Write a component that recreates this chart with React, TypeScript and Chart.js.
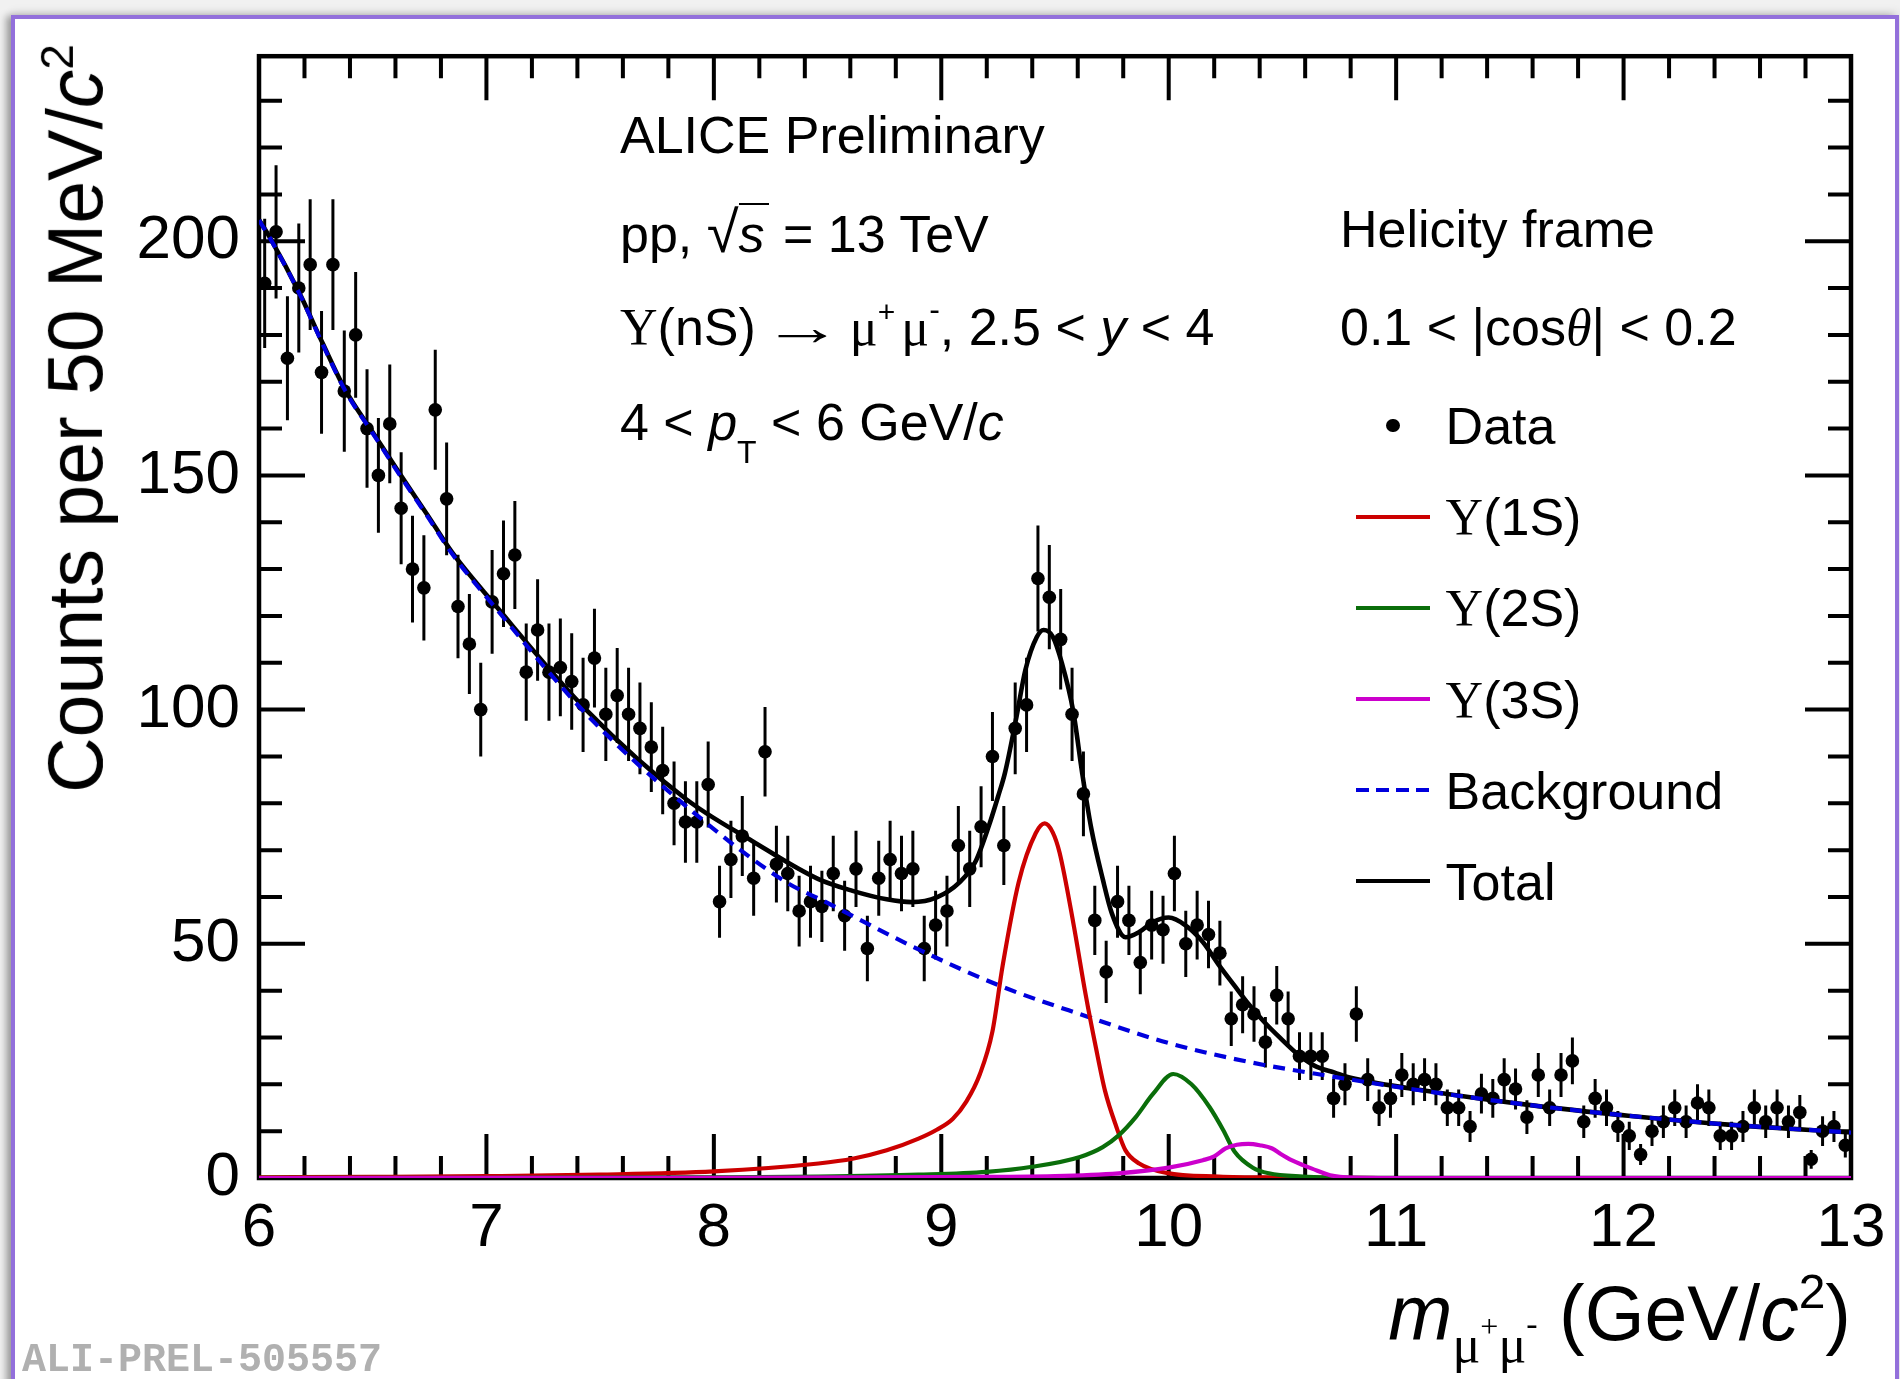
import React, { useEffect, useRef } from "react";
import { Chart, registerables } from "chart.js";

Chart.register(...registerables);

const SANS = "'Liberation Sans', Arial, Helvetica, sans-serif";
const SERIF = "'Liberation Serif', 'Times New Roman', serif";
const MONO = "'Liberation Mono', 'Courier New', monospace";

// ---- histogram: bin centres (GeV/c^2) and counts per 50 MeV/c^2 ----
const BIN_CENTERS = [
  6.025, 6.075, 6.125, 6.175, 6.225, 6.275, 6.325, 6.375, 6.425, 6.475,
  6.525, 6.575, 6.625, 6.675, 6.725, 6.775, 6.825, 6.875, 6.925, 6.975,
  7.025, 7.075, 7.125, 7.175, 7.225, 7.275, 7.325, 7.375, 7.425, 7.475,
  7.525, 7.575, 7.625, 7.675, 7.725, 7.775, 7.825, 7.875, 7.925, 7.975,
  8.025, 8.075, 8.125, 8.175, 8.225, 8.275, 8.325, 8.375, 8.425, 8.475,
  8.525, 8.575, 8.625, 8.675, 8.725, 8.775, 8.825, 8.875, 8.925, 8.975,
  9.025, 9.075, 9.125, 9.175, 9.225, 9.275, 9.325, 9.375, 9.425, 9.475,
  9.525, 9.575, 9.625, 9.675, 9.725, 9.775, 9.825, 9.875, 9.925, 9.975,
  10.025, 10.075, 10.125, 10.175, 10.225, 10.275, 10.325, 10.375, 10.425, 10.475,
  10.525, 10.575, 10.625, 10.675, 10.725, 10.775, 10.825, 10.875, 10.925, 10.975,
  11.025, 11.075, 11.125, 11.175, 11.225, 11.275, 11.325, 11.375, 11.425, 11.475,
  11.525, 11.575, 11.625, 11.675, 11.725, 11.775, 11.825, 11.875, 11.925, 11.975,
  12.025, 12.075, 12.125, 12.175, 12.225, 12.275, 12.325, 12.375, 12.425, 12.475,
  12.525, 12.575, 12.625, 12.675, 12.725, 12.775, 12.825, 12.875, 12.925, 12.975,
];
const COUNTS = [
  191, 202, 175, 190, 195, 172, 195, 168, 180, 160,
  150, 161, 143, 130, 126, 164, 145, 122, 114, 100,
  123, 129, 133, 108, 117, 108, 109, 106, 101, 111,
  99, 103, 99, 96, 92, 87, 80, 76, 76, 84,
  59, 68, 73, 64, 91, 67, 65, 57, 59, 58,
  65, 56, 66, 49, 64, 68, 65, 66, 49, 54,
  57, 71, 66, 75, 90, 71, 96, 101, 128, 124,
  115, 99, 82, 55, 44, 59, 55, 46, 54, 53,
  65, 50, 54, 52, 48, 34, 37, 35, 29, 39,
  34, 26, 26, 26, 17, 20, 35, 21, 15, 17,
  22, 20, 21, 20, 15, 15, 11, 18, 17, 21,
  19, 13, 22, 15, 22, 25, 12, 17, 15, 11,
  9, 5, 10, 12, 15, 12, 16, 15, 9, 9,
  11, 15, 12, 15, 12, 14, 4, 10, 11, 7,
];

// ---- fit curves ----
const TOTAL_X = [6.0, 6.05, 6.18, 6.28, 6.38, 6.5, 6.62, 6.74, 6.85, 7.03, 7.44, 7.88, 8.17, 8.46, 8.61, 8.76, 8.87, 8.98, 9.08, 9.15, 9.21, 9.25, 9.28, 9.33, 9.37, 9.42, 9.45, 9.49, 9.53, 9.58, 9.62, 9.66, 9.71, 9.75, 9.81, 9.87, 9.93, 10.0, 10.075, 10.15, 10.22, 10.29, 10.35, 10.42, 10.49, 10.57, 10.64, 10.73, 10.8, 11.08, 11.6, 12.02, 12.46, 13.0];
const TOTAL_Y = [204.6, 200.6, 188.7, 178.2, 168.2, 159.2, 150.3, 141.6, 133.5, 122.8, 99.9, 80.8, 71.9, 63.8, 61.3, 59.5, 58.9, 59.9, 63.1, 67.5, 75.3, 81.5, 86.5, 98.3, 108.5, 115.5, 117.0, 115.6, 110.0, 99.7, 86.3, 74.5, 63.8, 56.5, 51.4, 52.5, 54.6, 55.6, 53.9, 50.4, 45.5, 41.0, 37.2, 33.3, 29.9, 26.3, 24.0, 22.5, 21.4, 19.0, 15.5, 13.3, 11.4, 9.7];

const BKG_X = [6.0, 6.05, 6.18, 6.28, 6.38, 6.5, 6.62, 6.74, 6.85, 7.03, 7.44, 7.88, 8.32, 8.48, 8.9, 9.27, 9.64, 10.0, 10.37, 10.64, 11.08, 11.6, 12.02, 12.46, 13.0];
const BKG_Y = [204.5, 200.5, 188.6, 178.0, 168.0, 159.0, 150.0, 141.3, 133.2, 122.3, 99.0, 79.3, 63.1, 59.2, 48.8, 40.8, 34.5, 28.8, 24.6, 22.3, 18.9, 15.5, 13.3, 11.4, 9.7];

const Y1S_X = [6.0, 6.5, 7.0, 7.5, 8.0, 8.46, 8.61, 8.76, 8.9, 8.98, 9.05, 9.11, 9.17, 9.225, 9.27, 9.34, 9.415, 9.455, 9.49, 9.52, 9.58, 9.635, 9.68, 9.72, 9.77, 9.81, 9.87, 9.99, 10.22, 10.5, 11.0, 13.0];
const Y1S_Y = [0.15, 0.25, 0.4, 0.7, 1.4, 3.1, 4.1, 5.9, 8.4, 10.3, 12.6, 16.3, 22.2, 31.3, 45.4, 63.1, 73.6, 75.7, 73.8, 69.5, 54.6, 39.1, 27.8, 18.6, 10.9, 5.9, 3.1, 1.1, 0.3, 0.1, 0.0, 0.0];

const Y2S_X = [6.0, 7.0, 8.0, 8.46, 8.9, 9.2, 9.4, 9.61, 9.71, 9.78, 9.855, 9.93, 10.02, 10.1, 10.18, 10.24, 10.29, 10.37, 10.44, 10.59, 10.73, 11.0, 13.0];
const Y2S_Y = [0.02, 0.05, 0.15, 0.3, 0.7, 1.3, 2.4, 4.5, 6.6, 9.1, 13.0, 17.9, 22.2, 20.0, 15.1, 10.2, 5.6, 2.2, 1.0, 0.3, 0.1, 0.0, 0.0];

const Y3S_X = [6.0, 8.0, 9.0, 9.5, 9.78, 10.0, 10.15, 10.2, 10.25, 10.3, 10.35, 10.4, 10.455, 10.49, 10.54, 10.59, 10.63, 10.71, 10.81, 11.0, 13.0];
const Y3S_Y = [0.0, 0.05, 0.2, 0.4, 1.0, 2.2, 3.8, 4.6, 6.3, 7.1, 7.3, 7.0, 6.3, 5.2, 3.8, 2.75, 2.0, 0.6, 0.1, 0.0, 0.0];

// ---- axes ----
const X_TICKS = [6, 7, 8, 9, 10, 11, 12, 13];
const Y_TICKS = [0, 50, 100, 150, 200];
const X_MIN = 6;
const X_MAX = 13;
const Y_MIN = 0;
const Y_MAX = 239.5;

const COL_1S = "#cc0000";
const COL_2S = "#0a6e0a";
const COL_3S = "#cc00cc";
const COL_BKG = "#0000dd";
const COL_TOT = "#000000";

const toXY = (xs: number[], ys: number[]) => xs.map((x, i) => ({ x, y: ys[i] }));

const rootFramePlugin = {
  id: "rootFrame",
  beforeDatasetsDraw(chart: any) {
    const { ctx, chartArea: a, scales } = chart;
    const xs = scales.x;
    const ys = scales.y;
    ctx.save();
    ctx.strokeStyle = "#000";
    ctx.lineCap = "butt";
    ctx.lineWidth = 4.5;
    ctx.strokeRect(a.left, a.top, a.right - a.left, a.bottom - a.top);
    ctx.lineWidth = 4;
    ctx.beginPath();
    for (let k = 0; k <= 35; k++) {
      const v = X_MIN + k * 0.2;
      const len = k % 5 === 0 ? 44 : 22;
      const px = xs.getPixelForValue(v);
      ctx.moveTo(px, a.bottom);
      ctx.lineTo(px, a.bottom - len);
      ctx.moveTo(px, a.top);
      ctx.lineTo(px, a.top + len);
    }
    for (let k = 0; k <= 23; k++) {
      const v = k * 10;
      const len = k % 5 === 0 ? 46 : 23;
      const py = ys.getPixelForValue(v);
      ctx.moveTo(a.left, py);
      ctx.lineTo(a.left + len, py);
      ctx.moveTo(a.right, py);
      ctx.lineTo(a.right - len, py);
    }
    ctx.stroke();
    ctx.restore();
  },
};

const errorBarPlugin = {
  id: "errorBars",
  beforeDatasetDraw(chart: any, args: any) {
    if (args.index !== 0) return;
    const { ctx, chartArea: a, scales } = chart;
    ctx.save();
    ctx.beginPath();
    ctx.rect(a.left, a.top, a.right - a.left, a.bottom - a.top);
    ctx.clip();
    ctx.strokeStyle = "#000";
    ctx.lineWidth = 3;
    ctx.beginPath();
    COUNTS.forEach((c, i) => {
      const e = Math.sqrt(c);
      const px = scales.x.getPixelForValue(BIN_CENTERS[i]);
      ctx.moveTo(px, scales.y.getPixelForValue(c - e));
      ctx.lineTo(px, scales.y.getPixelForValue(c + e));
    });
    ctx.stroke();
    ctx.restore();
  },
};

function curve(label: string, xs: number[], ys: number[], color: string, width: number, order: number, dash?: number[]) {
  return {
    label,
    data: toXY(xs, ys),
    showLine: true,
    borderColor: color,
    backgroundColor: color,
    borderWidth: width,
    borderDash: dash || [],
    pointRadius: 0,
    pointHoverRadius: 0,
    cubicInterpolationMode: "monotone" as const,
    fill: false,
    order,
  };
}

const TICK_FONT = { family: SANS, size: 62 };

function TextAt(props: { left?: number; right?: number; baseline: number; size: number; children: any; style?: any }) {
  const { left, right, baseline, size, children, style } = props;
  return (
    <div
      style={{
        position: "absolute",
        left,
        right,
        top: baseline - 0.8465 * size,
        fontSize: size,
        lineHeight: 1,
        fontFamily: SANS,
        whiteSpace: "nowrap",
        color: "#000",
        ...(style || {}),
      }}
    >
      {children}
    </div>
  );
}

function Shift(props: { size: number; dy: number; serif?: boolean; italic?: boolean; children: any; ml?: number }) {
  return (
    <span
      style={{
        fontSize: props.size,
        position: "relative",
        top: props.dy,
        fontFamily: props.serif ? SERIF : undefined,
        fontStyle: props.italic ? "italic" : "normal",
        marginLeft: props.ml,
      }}
    >
      {props.children}
    </span>
  );
}

const Ups = () => <span style={{ fontFamily: SERIF }}>Υ</span>;

function LegendLine(props: { y: number; color?: string; dashed?: boolean }) {
  return (
    <div
      style={{
        position: "absolute",
        left: 1356,
        top: props.y - 2,
        width: 74,
        height: 4,
        background: props.dashed
          ? `repeating-linear-gradient(90deg, ${COL_BKG} 0px, ${COL_BKG} 13px, transparent 13px, transparent 20px)`
          : props.color,
      }}
    />
  );
}

export default function App() {
  const canvasRef = useRef<HTMLCanvasElement>(null);

  useEffect(() => {
    const canvas = canvasRef.current;
    if (!canvas) return;
    const chart = new Chart(canvas, {
      type: "scatter",
      data: {
        datasets: [
          {
            label: "Data",
            data: toXY(BIN_CENTERS, COUNTS),
            showLine: false,
            pointRadius: 6.8,
            pointHoverRadius: 6.8,
            pointBackgroundColor: "#000",
            pointBorderWidth: 0,
            borderColor: "#000",
            order: 10,
          } as any,
          curve("Total", TOTAL_X, TOTAL_Y, COL_TOT, 4.6, 5),
          curve("Background", BKG_X, BKG_Y, COL_BKG, 4.2, 4, [12, 8]),
          curve("Υ(1S)", Y1S_X, Y1S_Y, COL_1S, 4.2, 3),
          curve("Υ(2S)", Y2S_X, Y2S_Y, COL_2S, 4.2, 2),
          curve("Υ(3S)", Y3S_X, Y3S_Y, COL_3S, 4.2, 1),
        ],
      },
      options: {
        responsive: false,
        maintainAspectRatio: false,
        animation: false,
        events: [],
        layout: { padding: { left: 0, top: 46, right: 49, bottom: 0 } },
        plugins: {
          legend: { display: false },
          tooltip: { enabled: false },
          title: { display: false },
        },
        scales: {
          x: {
            type: "linear",
            min: X_MIN,
            max: X_MAX,
            afterFit: (s: any) => {
              s.height = 201;
            },
            afterBuildTicks: (s: any) => {
              s.ticks = X_TICKS.map((v) => ({ value: v }));
            },
            grid: { display: false, drawTicks: false },
            border: { display: false },
            ticks: {
              padding: 14,
              font: TICK_FONT,
              color: "#000",
              autoSkip: false,
              maxRotation: 0,
              minRotation: 0,
              callback: (v: any) => String(v),
            },
          },
          y: {
            type: "linear",
            min: Y_MIN,
            max: Y_MAX,
            afterFit: (s: any) => {
              s.width = 259;
            },
            afterBuildTicks: (s: any) => {
              s.ticks = Y_TICKS.map((v) => ({ value: v }));
            },
            grid: { display: false, drawTicks: false },
            border: { display: false },
            ticks: {
              padding: 19,
              font: TICK_FONT,
              color: "#000",
              autoSkip: false,
              includeBounds: false,
              callback: (v: any) => String(v),
            },
          },
        },
      } as any,
      plugins: [rootFramePlugin, errorBarPlugin],
    });
    return () => chart.destroy();
  }, []);

  const legendYs = [425.6, 516.7, 607.7, 699, 790, 881];
  const lb = (i: number) => legendYs[i] + 18.6;

  return (
    <div
      style={{
        position: "absolute",
        left: 0,
        top: 0,
        width: 1900,
        height: 1379,
        overflow: "hidden",
        background: "#f1f1f1",
      }}
    >
      <div
        style={{
          position: "absolute",
          left: 11,
          top: 15,
          width: 1888,
          height: 1420,
          boxSizing: "border-box",
          borderTop: "4px solid #9370db",
          borderLeft: "4px solid #9370db",
          borderRight: "4px solid #9370db",
          background: "#ffffff",
          boxShadow: "-6px 0 7px -1px rgba(0,0,0,0.33), 0 -4px 8px rgba(0,0,0,0.08)",
        }}
      />
      <canvas
        ref={canvasRef}
        width={1900}
        height={1379}
        style={{ position: "absolute", left: 0, top: 0, width: 1900, height: 1379 }}
      />

      {/* Y axis title */}
      <div
        style={{
          position: "absolute",
          right: 1900 - 36.8,
          top: 44,
          fontSize: 77,
          lineHeight: 1,
          fontFamily: SANS,
          whiteSpace: "nowrap",
          transformOrigin: "100% 0",
          transform: "rotate(-90deg)",
          color: "#000",
        }}
      >
        Counts per 50 MeV/<i>c</i>
        <Shift size={46} dy={-29}>2</Shift>
      </div>

      {/* X axis title */}
      <TextAt right={49} baseline={1340} size={77}>
        <i>m</i>
        <Shift size={52} dy={22} serif>
          μ<Shift size={32} dy={-25}>+</Shift>μ<Shift size={34} dy={-27}>-</Shift>
        </Shift>{" "}
        (GeV/<i>c</i>
        <Shift size={48} dy={-32}>2</Shift>)
      </TextAt>

      {/* Left annotations */}
      <TextAt left={620} baseline={152.7} size={52}>ALICE Preliminary</TextAt>
      <TextAt left={620} baseline={247} size={52}>
        pp, <span style={{ fontSize: 58 }}>√</span>
        <span style={{ fontStyle: "italic", borderTop: "2.5px solid #000", paddingRight: 4 }}>s</span> = 13 TeV
      </TextAt>
      <TextAt left={620} baseline={345} size={52}>
        <Ups />(nS)
        <span style={{ display: "inline-block", transform: "scaleX(1.55)", margin: "0 22px 0 20px" }}>→</span>
        <span style={{ fontFamily: SERIF }}>μ</span>
        <Shift size={30} dy={-23}>+</Shift>
        <span style={{ fontFamily: SERIF, marginLeft: 6 }}>μ</span>
        <Shift size={32} dy={-25}>-</Shift>, 2.5 &lt; <i>y</i> &lt; 4
      </TextAt>
      <TextAt left={620} baseline={440} size={52}>
        4 &lt; <i>p</i>
        <Shift size={32} dy={23}>T</Shift> &lt; 6 GeV/<i>c</i>
      </TextAt>

      {/* Right annotations */}
      <TextAt left={1340} baseline={247} size={52}>Helicity frame</TextAt>
      <TextAt left={1340} baseline={345} size={52}>
        0.1 &lt; |cos<span style={{ fontFamily: SERIF, fontStyle: "italic" }}>θ</span>| &lt; 0.2
      </TextAt>

      {/* Legend */}
      <div
        style={{
          position: "absolute",
          left: 1393 - 6.8,
          top: legendYs[0] - 6.8,
          width: 13.6,
          height: 13.6,
          borderRadius: "50%",
          background: "#000",
        }}
      />
      <LegendLine y={legendYs[1]} color={COL_1S} />
      <LegendLine y={legendYs[2]} color={COL_2S} />
      <LegendLine y={legendYs[3]} color={COL_3S} />
      <LegendLine y={legendYs[4]} dashed />
      <LegendLine y={legendYs[5]} color={COL_TOT} />
      <TextAt left={1445.6} baseline={lb(0)} size={52}>Data</TextAt>
      <TextAt left={1445.6} baseline={lb(1)} size={52}><Ups />(1S)</TextAt>
      <TextAt left={1445.6} baseline={lb(2)} size={52}><Ups />(2S)</TextAt>
      <TextAt left={1445.6} baseline={lb(3)} size={52}><Ups />(3S)</TextAt>
      <TextAt left={1445.6} baseline={lb(4)} size={52}>Background</TextAt>
      <TextAt left={1445.6} baseline={lb(5)} size={52}>Total</TextAt>

      {/* Figure id */}
      <TextAt left={22} baseline={1375} size={40} style={{ fontFamily: MONO, fontWeight: "bold", color: "#b0b0b0" }}>
        ALI-PREL-505557
      </TextAt>
    </div>
  );
}
